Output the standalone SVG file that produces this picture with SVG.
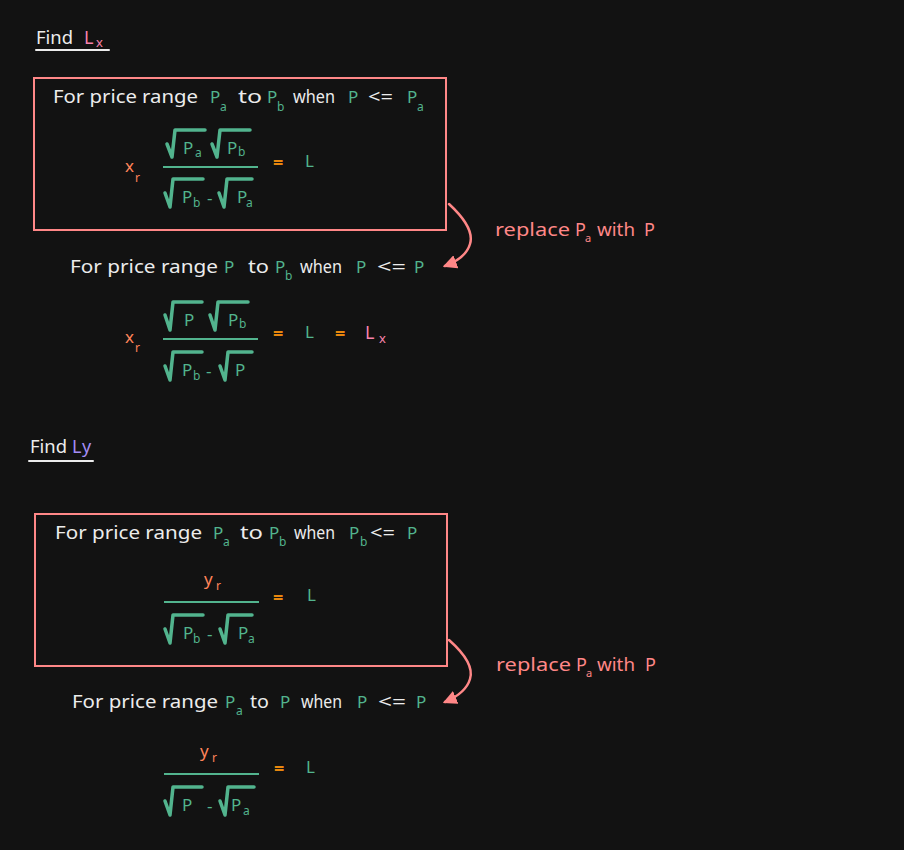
<svg xmlns="http://www.w3.org/2000/svg" width="904" height="850" viewBox="0 0 904 850">
<defs>
<style>
.t{font-family:"Noto Sans","Liberation Sans",sans-serif;font-size:18px;fill:#ececec}
.g{font-family:"Noto Sans","Liberation Sans",sans-serif;font-size:17px;fill:#52b48e}
.gs{font-family:"Noto Sans","Liberation Sans",sans-serif;font-size:12px;fill:#52b48e}
.o{font-family:"Noto Sans","Liberation Sans",sans-serif;font-size:17px;fill:#ff845a}
.os{font-family:"Noto Sans","Liberation Sans",sans-serif;font-size:12px;fill:#ff845a}
.eq{font-family:"Noto Sans","Liberation Sans",sans-serif;font-size:18px;font-weight:bold;fill:#e8870e}
.pk{font-family:"Noto Sans","Liberation Sans",sans-serif;font-size:18px;fill:#f783ac}
.pks{font-family:"Noto Sans","Liberation Sans",sans-serif;font-size:13px;fill:#f783ac}
.pu{font-family:"Noto Sans","Liberation Sans",sans-serif;font-size:18px;fill:#a48df5}
.rl{font-family:"Noto Sans","Liberation Sans",sans-serif;font-size:18px;fill:#ff8787}
.rls{font-family:"Noto Sans","Liberation Sans",sans-serif;font-size:11px;fill:#ff8787}
.box{fill:none;stroke:#ff8787;stroke-width:2}
.ul{stroke:#ececec;stroke-width:2;stroke-linecap:round}
.frac{stroke:#52b48e;stroke-width:2}
.rad{fill:none;stroke:#52b48e;stroke-width:3.5;stroke-linejoin:round;stroke-linecap:round}
.arrow{fill:none;stroke:#ff8787;stroke-width:2.5;stroke-linecap:round}
</style>
<marker id="ah" viewBox="0 0 12 12" refX="10" refY="6" markerWidth="14" markerHeight="14" markerUnits="userSpaceOnUse" orient="auto">
<path d="M0,0 L12,6 L0,12 z" fill="#ff8787"/>
</marker>
</defs>
<rect x="0" y="0" width="904" height="850" fill="#121212"/>

<g id="heading-lx">
<text class="t" x="36" y="44" textLength="37" lengthAdjust="spacingAndGlyphs">Find</text>
<text class="pk" x="84" y="44">L</text>
<text class="pks" x="96" y="47">x</text>
<line class="ul" x1="36" y1="50" x2="109" y2="50"/>
</g>

<g id="box1">
<rect class="box" x="34" y="78" width="412" height="152"/>
<text class="t" x="53" y="103" textLength="145" lengthAdjust="spacingAndGlyphs">For price range</text>
<text class="g" x="210" y="103">P</text><text class="gs" x="220" y="111">a</text>
<text class="t" x="238" y="103" textLength="24" lengthAdjust="spacingAndGlyphs">to</text>
<text class="g" x="267" y="103">P</text><text class="gs" x="277" y="111">b</text>
<text class="t" x="293" y="103" textLength="42" lengthAdjust="spacingAndGlyphs">when</text>
<text class="g" x="348" y="103">P</text>
<text class="t" x="368" y="103" textLength="25" lengthAdjust="spacingAndGlyphs">&lt;=</text>
<text class="g" x="407" y="103">P</text><text class="gs" x="417" y="111">a</text>
</g>

<g id="formula1">
<text class="o" x="125" y="172">x</text><text class="os" x="135" y="182">r</text>
<path class="rad" d="M167,144 L172,157 L175,130 L205,130"/>
<text class="g" x="183" y="154">P</text><text class="gs" x="195" y="157">a</text>
<path class="rad" d="M212,144 L217,157 L220,130 L250,130"/>
<text class="g" x="227" y="154">P</text><text class="gs" x="238" y="156">b</text>
<line class="frac" x1="163" y1="167" x2="258" y2="167"/>
<path class="rad" d="M165,193 L170,207 L173,179 L203,179"/>
<text class="g" x="182" y="203">P</text><text class="gs" x="193" y="207">b</text>
<text class="g" x="207" y="204">-</text>
<path class="rad" d="M219,193 L224,207 L227,179 L252,179"/>
<text class="g" x="237" y="203">P</text><text class="gs" x="246" y="207">a</text>
<text class="eq" x="273" y="169">=</text>
<text class="g" x="305" y="167">L</text>
</g>

<g id="step1">
<text class="t" x="70" y="273" textLength="148" lengthAdjust="spacingAndGlyphs">For price range</text>
<text class="g" x="224" y="273">P</text>
<text class="t" x="248" y="273" textLength="21" lengthAdjust="spacingAndGlyphs">to</text>
<text class="g" x="275" y="273">P</text><text class="gs" x="285" y="280">b</text>
<text class="t" x="300" y="273" textLength="42" lengthAdjust="spacingAndGlyphs">when</text>
<text class="g" x="356" y="273">P</text>
<text class="t" x="377" y="273" textLength="29" lengthAdjust="spacingAndGlyphs">&lt;=</text>
<text class="g" x="414" y="273">P</text>
</g>

<g id="formula2">
<text class="o" x="125" y="343">x</text><text class="os" x="135" y="352">r</text>
<path class="rad" d="M165,315 L170,330 L173,302 L202,302"/>
<text class="g" x="184" y="326">P</text>
<path class="rad" d="M210,315 L215,330 L218,302 L248,302"/>
<text class="g" x="228" y="326">P</text><text class="gs" x="239" y="328">b</text>
<line class="frac" x1="163" y1="339" x2="258" y2="339"/>
<path class="rad" d="M165,366 L170,380 L173,352 L202,352"/>
<text class="g" x="182" y="376">P</text><text class="gs" x="193" y="380">b</text>
<text class="g" x="206" y="377">-</text>
<path class="rad" d="M220,366 L225,380 L228,352 L252,352"/>
<text class="g" x="235" y="376">P</text>
<text class="eq" x="273" y="340">=</text>
<text class="g" x="305" y="338">L</text>
<text class="eq" x="335" y="340">=</text>
<text class="pk" x="365" y="339">L</text><text class="pks" x="379" y="343">x</text>
</g>

<g id="heading-ly">
<text class="t" x="30" y="453" textLength="37" lengthAdjust="spacingAndGlyphs">Find</text>
<text class="pu" x="72" y="453">L</text>
<text class="pu" x="82" y="453" font-size="16">y</text>
<line class="ul" x1="29" y1="461" x2="93" y2="461"/>
</g>

<g id="box2">
<rect class="box" x="35" y="514" width="412" height="152"/>
<text class="t" x="55" y="539" textLength="147" lengthAdjust="spacingAndGlyphs">For price range</text>
<text class="g" x="213" y="539">P</text><text class="gs" x="223" y="546">a</text>
<text class="t" x="240" y="539" textLength="23" lengthAdjust="spacingAndGlyphs">to</text>
<text class="g" x="269" y="539">P</text><text class="gs" x="279" y="546">b</text>
<text class="t" x="294" y="539" textLength="41" lengthAdjust="spacingAndGlyphs">when</text>
<text class="g" x="349" y="539">P</text><text class="gs" x="360" y="546">b</text>
<text class="t" x="370" y="539" textLength="25" lengthAdjust="spacingAndGlyphs">&lt;=</text>
<text class="g" x="407" y="539">P</text>
</g>

<g id="formula3">
<text class="o" x="204" y="585">y</text><text class="os" x="216" y="590">r</text>
<line class="frac" x1="164" y1="602" x2="259" y2="602"/>
<path class="rad" d="M165,629 L170,643 L173,615 L203,615"/>
<text class="g" x="183" y="639">P</text><text class="gs" x="193" y="643">b</text>
<text class="g" x="207" y="640">-</text>
<path class="rad" d="M220,629 L225,643 L228,615 L252,615"/>
<text class="g" x="238" y="639">P</text><text class="gs" x="248" y="643">a</text>
<text class="eq" x="273" y="604">=</text>
<text class="g" x="307" y="601">L</text>
</g>

<g id="step2">
<text class="t" x="72" y="708" textLength="146" lengthAdjust="spacingAndGlyphs">For price range</text>
<text class="g" x="225" y="708">P</text><text class="gs" x="236" y="715">a</text>
<text class="t" x="250" y="708" textLength="19" lengthAdjust="spacingAndGlyphs">to</text>
<text class="g" x="280" y="708">P</text>
<text class="t" x="301" y="708" textLength="41" lengthAdjust="spacingAndGlyphs">when</text>
<text class="g" x="357" y="708">P</text>
<text class="t" x="378" y="708" textLength="28" lengthAdjust="spacingAndGlyphs">&lt;=</text>
<text class="g" x="416" y="708">P</text>
</g>

<g id="formula4">
<text class="o" x="200" y="757">y</text><text class="os" x="212" y="762">r</text>
<line class="frac" x1="164" y1="774" x2="259" y2="774"/>
<path class="rad" d="M165,801 L170,815 L173,787 L202,787"/>
<text class="g" x="182" y="811">P</text>
<text class="g" x="207" y="812">-</text>
<path class="rad" d="M220,801 L225,815 L228,787 L254,787"/>
<text class="g" x="231" y="811">P</text><text class="gs" x="243" y="815">a</text>
<text class="eq" x="274" y="775">=</text>
<text class="g" x="306" y="773">L</text>
</g>

<g id="connectors">
<path class="arrow" d="M449,204 Q475,228 470,244 Q466,258 445,266" marker-end="url(#ah)"/>
<text class="rl" x="495" y="236" textLength="75" lengthAdjust="spacingAndGlyphs">replace</text>
<text class="rl" x="575" y="236">P</text><text class="rls" x="585" y="242">a</text>
<text class="rl" x="597" y="236" textLength="38" lengthAdjust="spacingAndGlyphs">with</text>
<text class="rl" x="644" y="236">P</text>
<path class="arrow" d="M449,640 Q475,663 470,679 Q466,693 445,702" marker-end="url(#ah)"/>
<text class="rl" x="496" y="671" textLength="75" lengthAdjust="spacingAndGlyphs">replace</text>
<text class="rl" x="576" y="671">P</text><text class="rls" x="586" y="677">a</text>
<text class="rl" x="597" y="671" textLength="38" lengthAdjust="spacingAndGlyphs">with</text>
<text class="rl" x="645" y="671">P</text>
</g>
</svg>
